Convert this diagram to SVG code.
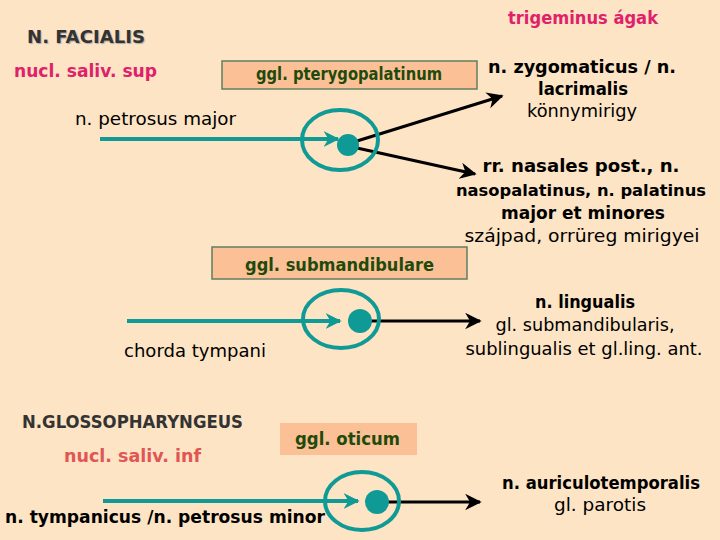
<svg xmlns="http://www.w3.org/2000/svg" width="720" height="540" viewBox="0 0 720 540">
<style>
text{font-family:"Comic Sans MS","DejaVu Sans",sans-serif;font-size:18px}
.b{font-weight:bold}
.hd{font-weight:bold;fill:#333}
.pk{font-weight:bold;fill:#e0206a}
.gl{font-weight:bold;fill:#1f4a0c}
.k{fill:#000}
.box{fill:#fcc096;stroke:#5f7f60;stroke-width:1.5}
.ell{fill:none;stroke:#0f9a96;stroke-width:4}
.dot{fill:#0f9a96}
.tl{stroke:#0f9a96;stroke-width:4;fill:none;marker-end:url(#ta)}
.bl{stroke:#000;stroke-width:3;fill:none;marker-end:url(#ba)}
</style>
<defs>
<marker id="ta" viewBox="0 0 10 10" refX="9" refY="5" markerWidth="4" markerHeight="4" orient="auto" markerUnits="strokeWidth"><path d="M0,0 L10,5 L0,10 L3,5 z" fill="#0f9a96"/></marker>
<marker id="ba" viewBox="0 0 10 10" refX="9" refY="5" markerWidth="5.5" markerHeight="5.5" orient="auto" markerUnits="strokeWidth"><path d="M0,0 L10,5 L0,10 L3,5 z" fill="#000"/></marker>
</defs>
<rect width="720" height="540" fill="#fde4c4"/>

<g id="labels-left">
<text x="27" y="43" class="hd" textLength="118" lengthAdjust="spacingAndGlyphs" style="text-shadow:1px 1px 1px #aaa">N. FACIALIS</text>
<text x="14" y="77" class="pk" textLength="143" lengthAdjust="spacingAndGlyphs">nucl. saliv. sup</text>
<text x="75" y="125" class="k" textLength="161" lengthAdjust="spacingAndGlyphs">n. petrosus major</text>
<text x="124" y="357" class="k" textLength="142" lengthAdjust="spacingAndGlyphs">chorda tympani</text>
<text x="22" y="428" class="hd" textLength="221" lengthAdjust="spacingAndGlyphs">N.GLOSSOPHARYNGEUS</text>
<text x="64" y="462" style="font-weight:bold;fill:#e05555" textLength="137" lengthAdjust="spacingAndGlyphs">nucl. saliv. inf</text>
<text x="5" y="523" class="b" textLength="320" lengthAdjust="spacingAndGlyphs">n. tympanicus /n. petrosus minor</text>
</g>

<g id="connectors">
<line x1="100" y1="139" x2="338" y2="139" class="tl"/>
<line x1="357" y1="141" x2="502" y2="96" class="bl"/>
<line x1="357" y1="148" x2="475" y2="174" class="bl"/>
<line x1="127" y1="321" x2="340" y2="321" class="tl"/>
<line x1="370" y1="321" x2="480" y2="321" class="bl"/>
<line x1="103" y1="501" x2="358" y2="501" class="tl"/>
<line x1="387" y1="502" x2="480" y2="502" class="bl"/>
</g>

<g id="ggl-pterygopalatinum">
<rect x="222" y="61" width="255" height="28" class="box"/>
<text x="256" y="80" class="gl" textLength="186" lengthAdjust="spacingAndGlyphs">ggl. pterygopalatinum</text>
<ellipse cx="340" cy="140" rx="38" ry="30" class="ell"/>
<circle cx="348" cy="145" r="11" class="dot"/>
</g>

<g id="ggl-submandibulare">
<rect x="212" y="247" width="255" height="32" class="box"/>
<text x="245" y="271" class="gl" textLength="189" lengthAdjust="spacingAndGlyphs">ggl. submandibulare</text>
<ellipse cx="341" cy="319" rx="38" ry="29" class="ell"/>
<circle cx="360" cy="321" r="12" class="dot"/>
</g>

<g id="ggl-oticum">
<rect x="280" y="423" width="137" height="32" fill="#fcc096"/>
<text x="295" y="445" class="gl" textLength="105" lengthAdjust="spacingAndGlyphs">ggl. oticum</text>
<ellipse cx="362" cy="501" rx="37" ry="29" class="ell"/>
<circle cx="377" cy="502" r="12" class="dot"/>
</g>

<g id="trigeminus">
<text x="583" y="24" class="pk" text-anchor="middle" textLength="150" lengthAdjust="spacingAndGlyphs">trigeminus ágak</text>
</g>

<g id="n-zygomaticus">
<text x="582" y="73" class="b" text-anchor="middle" textLength="188" lengthAdjust="spacingAndGlyphs">n. zygomaticus / n.</text>
<text x="583" y="95" class="b" text-anchor="middle" textLength="90" lengthAdjust="spacingAndGlyphs">lacrimalis</text>
<text x="582" y="117" text-anchor="middle" textLength="110" lengthAdjust="spacingAndGlyphs">könnymirigy</text>
</g>

<g id="rr-nasales">
<text x="581" y="172" class="b" text-anchor="middle" textLength="197" lengthAdjust="spacingAndGlyphs">rr. nasales post., n.</text>
<text x="581" y="196" class="b" text-anchor="middle" style="font-size:16px" textLength="250" lengthAdjust="spacingAndGlyphs">nasopalatinus, n. palatinus</text>
<text x="583" y="219" class="b" text-anchor="middle" textLength="164" lengthAdjust="spacingAndGlyphs">major et minores</text>
<text x="582" y="242" text-anchor="middle" textLength="235" lengthAdjust="spacingAndGlyphs">szájpad, orrüreg mirigyei</text>
</g>

<g id="n-lingualis">
<text x="585" y="308" class="b" text-anchor="middle" textLength="100" lengthAdjust="spacingAndGlyphs">n. lingualis</text>
<text x="585" y="331" text-anchor="middle" textLength="179" lengthAdjust="spacingAndGlyphs">gl. submandibularis,</text>
<text x="584" y="355" text-anchor="middle" textLength="237" lengthAdjust="spacingAndGlyphs">sublingualis et gl.ling. ant.</text>
</g>

<g id="n-auriculotemporalis">
<text x="601" y="489" class="b" text-anchor="middle" textLength="198" lengthAdjust="spacingAndGlyphs">n. auriculotemporalis</text>
<text x="600" y="511" text-anchor="middle" textLength="92" lengthAdjust="spacingAndGlyphs">gl. parotis</text>
</g>
</svg>
